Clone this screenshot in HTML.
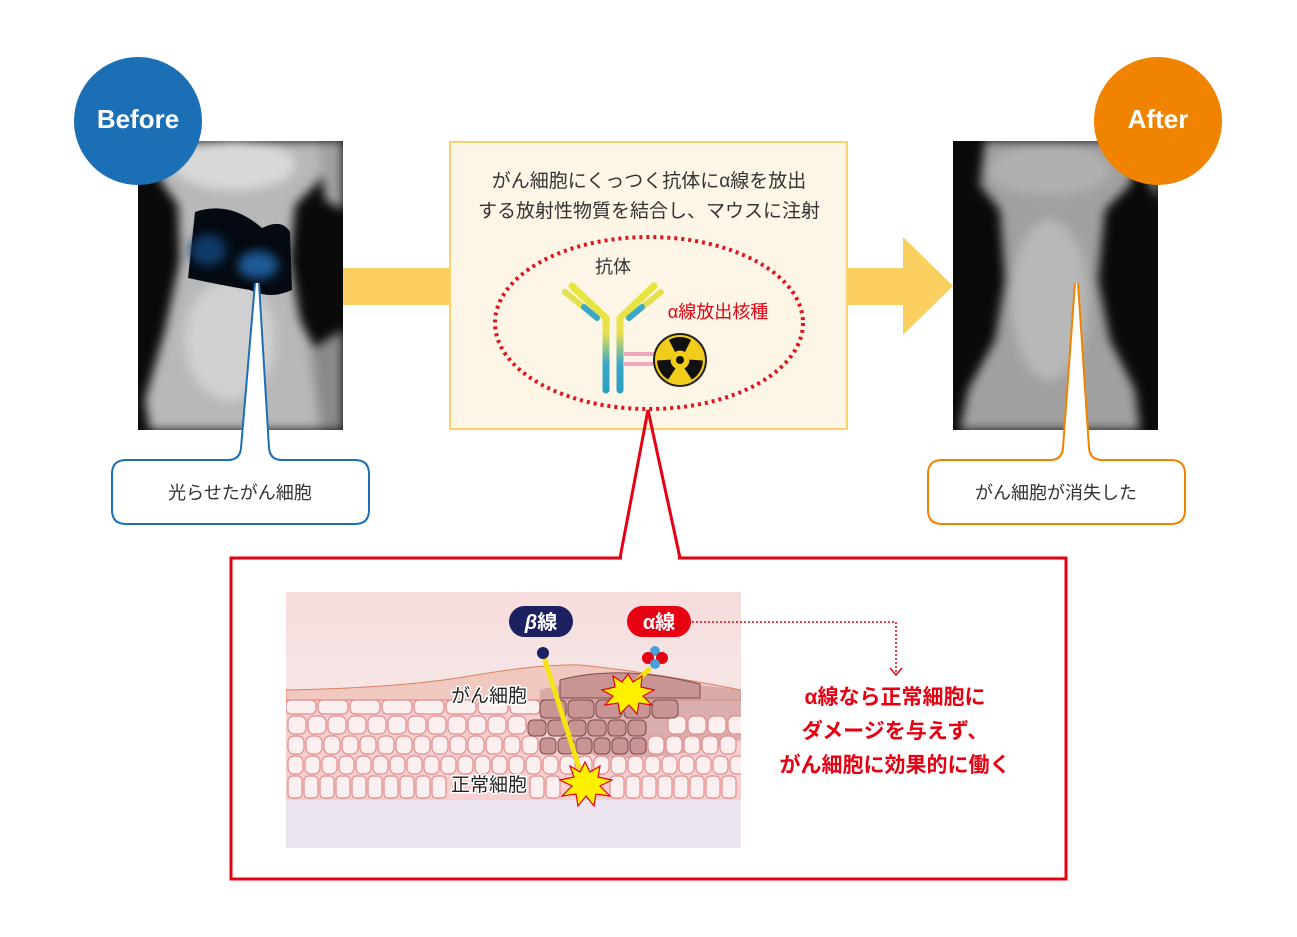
<!DOCTYPE html>
<html><head><meta charset="utf-8"><style>
html,body{margin:0;padding:0;background:#fff;}
svg{display:block;font-family:"Liberation Sans","Noto Sans CJK JP",sans-serif;}
</style></head><body>
<svg width="1297" height="937" viewBox="0 0 1297 937" xmlns="http://www.w3.org/2000/svg">
<defs>
<filter id="bl" x="-20%" y="-20%" width="140%" height="140%"><feGaussianBlur stdDeviation="5"/></filter>
<clipPath id="c1"><rect x="138" y="141" width="205" height="289"/></clipPath>
<clipPath id="c2"><rect x="953" y="141" width="205" height="289"/></clipPath>
<clipPath id="c3"><rect x="286" y="592" width="455" height="256"/></clipPath>
<linearGradient id="ab" x1="0" y1="0" x2="0" y2="1"><stop offset="0" stop-color="#e6e63a"/><stop offset="0.45" stop-color="#e8e050"/><stop offset="0.75" stop-color="#3aa8c8"/><stop offset="1" stop-color="#2aa0c0"/></linearGradient>
<linearGradient id="sk" x1="0" y1="0" x2="0" y2="1"><stop offset="0" stop-color="#f7dcdc"/><stop offset="0.3" stop-color="#f6e4e4"/><stop offset="0.82" stop-color="#f3e7ee"/><stop offset="1" stop-color="#ece4ee"/></linearGradient>
</defs>

<rect x="343" y="268" width="110" height="37" fill="#fbcf5f"/>
<rect x="846" y="268" width="60" height="37" fill="#fbcf5f"/>
<polygon points="903,237 953,286 903,335" fill="#fbcf5f"/>

<!-- Before image -->
<g clip-path="url(#c1)">
<rect x="138" y="141" width="205" height="289" fill="#0a0a0a"/>
<g filter="url(#bl)">
<path d="M150,141 L330,141 L320,180 L295,205 L290,260 L300,320 L320,360 L330,400 L320,430 L150,430 L145,400 L165,330 L180,260 L178,205 L160,180 Z" fill="#b8b8b8"/>
<path d="M318,141 L343,141 L343,210 L325,200 Z" fill="#a0a0a0"/>
<path d="M310,350 L343,330 L343,430 L320,430 Z" fill="#8a8a8a"/>
<ellipse cx="230" cy="340" rx="45" ry="60" fill="#d0d0d0"/>
<ellipse cx="235" cy="165" rx="60" ry="25" fill="#d8d8d8"/>
</g>
<path d="M195,212 Q230,200 262,228 Q282,218 290,232 L292,290 Q270,300 250,290 Q220,285 188,278 Z" fill="#050a12"/>
<ellipse cx="208" cy="250" rx="18" ry="16" fill="#0d3a68" filter="url(#bl)"/>
<ellipse cx="258" cy="265" rx="20" ry="14" fill="#1a5a96" filter="url(#bl)"/>
</g>
<circle cx="138" cy="121" r="64" fill="#1a6fb5"/>
<text x="138" y="128" text-anchor="middle" font-size="26" font-weight="bold" fill="#fff">Before</text>

<!-- After image -->
<g clip-path="url(#c2)">
<rect x="953" y="141" width="205" height="289" fill="#0a0a0a"/>
<g filter="url(#bl)">
<path d="M985,141 L1140,141 L1130,185 L1105,210 L1098,280 L1110,340 L1135,390 L1140,430 L960,430 L968,390 L995,340 L1005,280 L1000,210 L980,185 Z" fill="#a0a0a0"/>
<ellipse cx="1050" cy="300" rx="38" ry="80" fill="#b8b8b8"/>
<ellipse cx="1050" cy="170" rx="60" ry="25" fill="#b0b0b0"/>
<path d="M1130,141 L1158,141 L1158,200 Z" fill="#999"/>
</g>
</g>
<circle cx="1158" cy="121" r="64" fill="#f08300"/>
<text x="1158" y="128" text-anchor="middle" font-size="26" font-weight="bold" fill="#fff">After</text>

<!-- Center box -->
<rect x="450" y="142" width="397" height="287" fill="#fdf6e6" stroke="#f9d26e" stroke-width="2"/>
<text x="649" y="187" text-anchor="middle" font-size="19" fill="#333">がん細胞にくっつく抗体にα線を放出</text>
<text x="649" y="217" text-anchor="middle" font-size="19" fill="#333">する放射性物質を結合し、マウスに注射</text>
<ellipse cx="649" cy="323" rx="154" ry="86" fill="none" stroke="#e0141e" stroke-width="4" stroke-dasharray="3 4"/>
<text x="613" y="273" text-anchor="middle" font-size="18" fill="#333">抗体</text>
<text x="718" y="318" text-anchor="middle" font-size="18" fill="#e60012">α線放出核種</text>
<g stroke-linecap="round" fill="none">
<path d="M606,390 L606,318 L572,286" stroke="url(#ab)" stroke-width="7"/>
<path d="M620,390 L620,318 L654,286" stroke="url(#ab)" stroke-width="7"/>
<path d="M597,318 L565,292" stroke="#e6e050" stroke-width="6"/>
<path d="M629,318 L661,292" stroke="#e6e050" stroke-width="6"/>
<path d="M597,318 L584,307" stroke="#3aa8c8" stroke-width="6"/>
<path d="M629,318 L642,307" stroke="#3aa8c8" stroke-width="6"/>
</g>
<rect x="624" y="352" width="30" height="4" fill="#f0a8c0"/>
<rect x="624" y="362" width="30" height="4" fill="#f0a8c0"/>
<circle cx="680" cy="360" r="26" fill="#f2cc1a" stroke="#222" stroke-width="2"/>
<circle cx="680" cy="360" r="4" fill="#111"/>
<g fill="#111">
<path d="M669,340 A22,22 0 0 1 691,340 L685,352 A9,9 0 0 0 675,352 Z"/>
<path d="M669,340 A22,22 0 0 1 691,340 L685,352 A9,9 0 0 0 675,352 Z" transform="rotate(120 680 360)"/>
<path d="M669,340 A22,22 0 0 1 691,340 L685,352 A9,9 0 0 0 675,352 Z" transform="rotate(240 680 360)"/>
</g>

<!-- label boxes -->
<path d="M255,283 L241,448 Q240,460 228,460 H126 Q112,460 112,474 V510 Q112,524 126,524 H355 Q369,524 369,510 V474 Q369,460 355,460 H282 Q270,460 269,448 L259,283" fill="#fff" stroke="#1a6fb5" stroke-width="2"/>
<text x="240" y="499" text-anchor="middle" font-size="18" fill="#333">光らせたがん細胞</text>
<path d="M1075,283 L1063,448 Q1062,460 1050,460 H942 Q928,460 928,474 V510 Q928,524 942,524 H1171 Q1185,524 1185,510 V474 Q1185,460 1171,460 H1102 Q1090,460 1089,448 L1078,283" fill="#fff" stroke="#f08300" stroke-width="2"/>
<text x="1056" y="499" text-anchor="middle" font-size="18" fill="#333">がん細胞が消失した</text>

<!-- red callout -->
<path d="M620,558 L648,410 L680,558" fill="none" stroke="#e60012" stroke-width="3"/>
<rect x="231" y="558" width="835" height="321" fill="none" stroke="#e60012" stroke-width="3"/>
<line x1="622" y1="558" x2="678" y2="558" stroke="#fff" stroke-width="4"/>

<g clip-path="url(#c3)">
<rect x="286" y="592" width="455" height="256" fill="url(#sk)"/>
<rect x="286" y="690" width="455" height="110" fill="#f6d0d0"/>
<path d="M286,690 Q400,688 470,676 Q540,664 580,665 Q650,672 741,690 L741,700 L286,700 Z" fill="#f0c8c0" stroke="#d88060" stroke-width="1"/>
<path d="M540,690 Q600,672 741,690 L741,740 Q680,760 600,758 Q560,740 540,720 Z" fill="#c89898" opacity="0.6"/>
<g fill="#fcefef" stroke="#e48a8a" stroke-width="1.2">
<rect x="288" y="776" width="14" height="22" rx="4"/><rect x="304" y="776" width="14" height="22" rx="4"/><rect x="320" y="776" width="14" height="22" rx="4"/><rect x="336" y="776" width="14" height="22" rx="4"/><rect x="352" y="776" width="14" height="22" rx="4"/><rect x="368" y="776" width="14" height="22" rx="4"/><rect x="384" y="776" width="14" height="22" rx="4"/><rect x="400" y="776" width="14" height="22" rx="4"/><rect x="416" y="776" width="14" height="22" rx="4"/><rect x="432" y="776" width="14" height="22" rx="4"/><rect x="530" y="776" width="14" height="22" rx="4"/><rect x="546" y="776" width="14" height="22" rx="4"/><rect x="610" y="776" width="14" height="22" rx="4"/><rect x="626" y="776" width="14" height="22" rx="4"/><rect x="642" y="776" width="14" height="22" rx="4"/><rect x="658" y="776" width="14" height="22" rx="4"/><rect x="674" y="776" width="14" height="22" rx="4"/><rect x="690" y="776" width="14" height="22" rx="4"/><rect x="706" y="776" width="14" height="22" rx="4"/><rect x="722" y="776" width="14" height="22" rx="4"/>
<rect x="288" y="756" width="15" height="18" rx="6"/><rect x="305" y="756" width="15" height="18" rx="6"/><rect x="322" y="756" width="15" height="18" rx="6"/><rect x="339" y="756" width="15" height="18" rx="6"/><rect x="356" y="756" width="15" height="18" rx="6"/><rect x="373" y="756" width="15" height="18" rx="6"/><rect x="390" y="756" width="15" height="18" rx="6"/><rect x="407" y="756" width="15" height="18" rx="6"/><rect x="424" y="756" width="15" height="18" rx="6"/><rect x="441" y="756" width="15" height="18" rx="6"/><rect x="458" y="756" width="15" height="18" rx="6"/><rect x="475" y="756" width="15" height="18" rx="6"/><rect x="492" y="756" width="15" height="18" rx="6"/><rect x="509" y="756" width="15" height="18" rx="6"/><rect x="526" y="756" width="15" height="18" rx="6"/><rect x="543" y="756" width="15" height="18" rx="6"/><rect x="560" y="756" width="15" height="18" rx="6"/><rect x="577" y="756" width="15" height="18" rx="6"/><rect x="594" y="756" width="15" height="18" rx="6"/><rect x="611" y="756" width="15" height="18" rx="6"/><rect x="628" y="756" width="15" height="18" rx="6"/><rect x="645" y="756" width="15" height="18" rx="6"/><rect x="662" y="756" width="15" height="18" rx="6"/><rect x="679" y="756" width="15" height="18" rx="6"/><rect x="696" y="756" width="15" height="18" rx="6"/><rect x="713" y="756" width="15" height="18" rx="6"/><rect x="730" y="756" width="15" height="18" rx="6"/>
<rect x="288" y="736" width="16" height="18" rx="6"/><rect x="306" y="736" width="16" height="18" rx="6"/><rect x="324" y="736" width="16" height="18" rx="6"/><rect x="342" y="736" width="16" height="18" rx="6"/><rect x="360" y="736" width="16" height="18" rx="6"/><rect x="378" y="736" width="16" height="18" rx="6"/><rect x="396" y="736" width="16" height="18" rx="6"/><rect x="414" y="736" width="16" height="18" rx="6"/><rect x="432" y="736" width="16" height="18" rx="6"/><rect x="450" y="736" width="16" height="18" rx="6"/><rect x="468" y="736" width="16" height="18" rx="6"/><rect x="486" y="736" width="16" height="18" rx="6"/><rect x="504" y="736" width="16" height="18" rx="6"/><rect x="522" y="736" width="16" height="18" rx="6"/><rect x="648" y="736" width="16" height="18" rx="6"/><rect x="666" y="736" width="16" height="18" rx="6"/><rect x="684" y="736" width="16" height="18" rx="6"/><rect x="702" y="736" width="16" height="18" rx="6"/><rect x="720" y="736" width="16" height="18" rx="6"/>
<rect x="288" y="716" width="18" height="18" rx="6"/><rect x="308" y="716" width="18" height="18" rx="6"/><rect x="328" y="716" width="18" height="18" rx="6"/><rect x="348" y="716" width="18" height="18" rx="6"/><rect x="368" y="716" width="18" height="18" rx="6"/><rect x="388" y="716" width="18" height="18" rx="6"/><rect x="408" y="716" width="18" height="18" rx="6"/><rect x="428" y="716" width="18" height="18" rx="6"/><rect x="448" y="716" width="18" height="18" rx="6"/><rect x="468" y="716" width="18" height="18" rx="6"/><rect x="488" y="716" width="18" height="18" rx="6"/><rect x="508" y="716" width="18" height="18" rx="6"/><rect x="668" y="716" width="18" height="18" rx="6"/><rect x="688" y="716" width="18" height="18" rx="6"/><rect x="708" y="716" width="18" height="18" rx="6"/><rect x="728" y="716" width="18" height="18" rx="6"/>
<rect x="286" y="700" width="30" height="14" rx="5"/><rect x="318" y="700" width="30" height="14" rx="5"/><rect x="350" y="700" width="30" height="14" rx="5"/><rect x="382" y="700" width="30" height="14" rx="5"/><rect x="414" y="700" width="30" height="14" rx="5"/><rect x="446" y="700" width="30" height="14" rx="5"/><rect x="478" y="700" width="30" height="14" rx="5"/><rect x="510" y="700" width="30" height="14" rx="5"/>
</g>
<g fill="#c89494" stroke="#7a4a4a" stroke-width="1">
<rect x="540" y="700" width="26" height="18" rx="5"/><rect x="568" y="700" width="26" height="18" rx="5"/><rect x="596" y="700" width="26" height="18" rx="5"/><rect x="624" y="700" width="26" height="18" rx="5"/><rect x="652" y="700" width="26" height="18" rx="5"/>
<rect x="528" y="720" width="18" height="16" rx="5"/><rect x="548" y="720" width="18" height="16" rx="5"/><rect x="568" y="720" width="18" height="16" rx="5"/><rect x="588" y="720" width="18" height="16" rx="5"/><rect x="608" y="720" width="18" height="16" rx="5"/><rect x="628" y="720" width="18" height="16" rx="5"/>
<rect x="540" y="738" width="16" height="16" rx="5"/><rect x="558" y="738" width="16" height="16" rx="5"/><rect x="576" y="738" width="16" height="16" rx="5"/><rect x="594" y="738" width="16" height="16" rx="5"/><rect x="612" y="738" width="16" height="16" rx="5"/><rect x="630" y="738" width="16" height="16" rx="5"/>
<path d="M560,680 Q620,664 700,684 L700,698 L560,698 Z"/>
</g>
<rect x="286" y="800" width="455" height="48" fill="#ece4ee"/>
</g>
<text x="489" y="702" text-anchor="middle" font-size="19" fill="#222" stroke="#fff" stroke-width="3" paint-order="stroke">がん細胞</text>
<text x="489" y="791" text-anchor="middle" font-size="19" fill="#222" stroke="#fff" stroke-width="3" paint-order="stroke">正常細胞</text>
<line x1="543" y1="654" x2="583" y2="780" stroke="#f6e316" stroke-width="5"/>
<circle cx="543" cy="653" r="6" fill="#1c2060"/>
<polygon points="585,762 590,772 600,766 598,777 612,780 600,786 610,796 596,794 594,806 586,796 578,806 576,794 562,796 572,786 560,780 574,777 570,766 580,772" fill="#fff000" stroke="#e60012" stroke-width="1.2"/>
<line x1="650" y1="668" x2="628" y2="690" stroke="#f6e316" stroke-width="5"/>
<polygon points="628,674 633,682 642,676 641,687 654,690 643,696 652,705 639,703 637,714 629,705 620,714 618,703 605,705 613,696 602,690 615,687 613,676 622,682" fill="#fff000" stroke="#e60012" stroke-width="1.2"/>
<circle cx="655" cy="651" r="5" fill="#4aa0d8"/>
<circle cx="648" cy="658" r="6" fill="#e60012"/>
<circle cx="662" cy="658" r="6" fill="#e60012"/>
<circle cx="655" cy="664" r="5" fill="#4aa0d8"/>
<rect x="509" y="606" width="64" height="31" rx="15.5" fill="#1c2060"/>
<text x="541" y="629" text-anchor="middle" font-size="20" font-weight="bold" fill="#fff"><tspan font-style="italic">β</tspan>線</text>
<rect x="627" y="606" width="64" height="31" rx="15.5" fill="#e60012"/>
<text x="659" y="629" text-anchor="middle" font-size="20" font-weight="bold" fill="#fff">α線</text>
<path d="M692,622 H896 V672" fill="none" stroke="#e60012" stroke-width="1.5" stroke-dasharray="2 2"/>
<path d="M890,668 L896,675 L902,668" fill="none" stroke="#e60012" stroke-width="1.5"/>
<text x="895" y="704" text-anchor="middle" font-size="21" font-weight="bold" fill="#e60012">α線なら正常細胞に</text>
<text x="895" y="738" text-anchor="middle" font-size="21" font-weight="bold" fill="#e60012">ダメージを与えず、</text>
<text x="895" y="772" text-anchor="middle" font-size="21" font-weight="bold" fill="#e60012">がん細胞に効果的に働く</text>
</svg>
</body></html>
